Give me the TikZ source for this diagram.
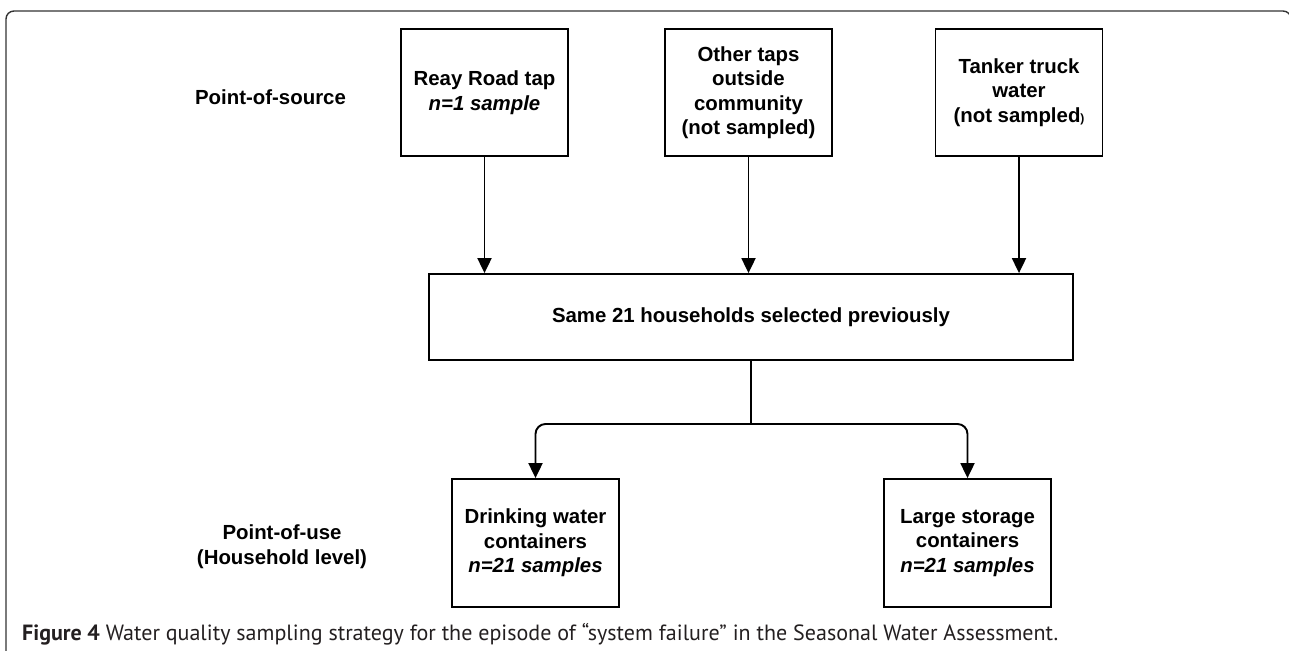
\documentclass[tikz,border=0pt]{standalone}
\usepackage{graphicx}
\usepackage{fontspec}
\setmainfont{Liberation Sans}
\newfontfamily\capfont{PT Sans}
\usetikzlibrary{arrows.meta}
\definecolor{capcol}{HTML}{231F20}
\begin{document}
\begin{tikzpicture}[x=1pt,y=-1pt,
  box/.style={draw=black, line width=1.8pt, minimum width=167pt, minimum height=127pt, inner sep=0pt, align=center, font=\fontsize{20.4}{24.5}\selectfont\bfseries},
  lbl/.style={align=center, inner sep=0pt, font=\fontsize{20.4}{24.5}\selectfont\bfseries},
  line/.style={line width=1.9pt},
  conn/.style={line width=1.9pt, -{Triangle[width=14pt,length=15pt]}}]
\useasboundingbox (0,0) rectangle (1289,650);
\begin{scope}
\clip (0,0) rectangle (1289,650);
\draw[line width=1.4pt, draw=black!80, rounded corners=8pt] (6,670) -- (6,11) -- (1291,11) -- (1291,670);
\end{scope}
% labels
\node[lbl] (pos) at (270.5,97) {Point-of-source};
\node[lbl] (pou) at (282,546.5) {Point-of-use\\(Household level)};
% source boxes
\node[box] (reay) at (484.5,92.5) {Reay Road tap\\\itshape n=1 sample};
\node[box] (other) at (748.5,92.5) {Other taps\\outside\\community\\(not sampled)};
\node[box] (tank) at (1019,92.5) {Tanker truck\\water\\(not sampled{\fontsize{12}{14}\selectfont)}};
% middle
\node[box, minimum width=644pt, minimum height=86pt] (mid) at (751,317) {Same 21 households selected previously};
% use boxes
\node[box, minimum height=128pt] (drink) at (535.5,543) {Drinking water\\containers\\\itshape n=21 samples};
\node[box, minimum height=128pt] (large) at (967.5,543) {Large storage\\containers\\\itshape n=21 samples};
% connectors
\draw[conn] (reay.south) -- (reay.south |- mid.north);
\draw[conn] (other.south) -- (other.south |- mid.north);
\draw[conn] (tank.south) -- (tank.south |- mid.north);
\coordinate (br) at (751,424);
\draw[line] (mid.south) -- (br);
\draw[conn, rounded corners=10pt] (br) -| (drink.north);
\draw[conn, rounded corners=10pt] (br) -| (large.north);
% caption
\node[anchor=west, inner sep=0pt, text=capcol] (cap) at (22,634) {\resizebox{1036pt}{!}{\capfont\fontsize{16}{19}\selectfont\textbf{Figure 4} Water quality sampling strategy for the episode of “system failure” in the Seasonal Water Assessment.}};
\end{tikzpicture}
\end{document}
